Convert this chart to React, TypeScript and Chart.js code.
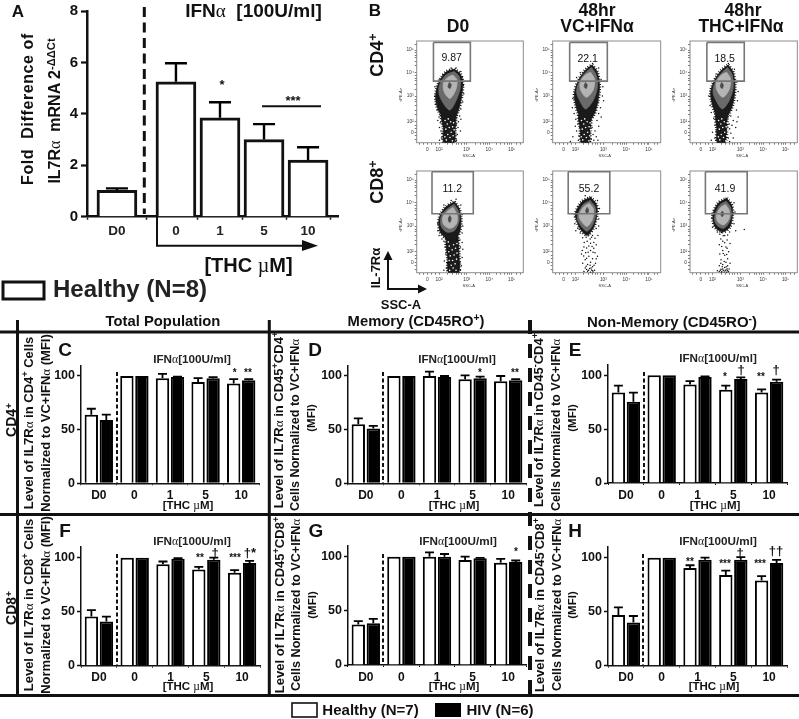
import React, { useEffect, useRef } from "react";
import { Chart, registerables } from "chart.js";
Chart.register(...registerables);

const FONT = '"Liberation Sans", Arial, sans-serif';

// ---- Panel A ----
const aLabels = ["D0", "0", "1", "5", "10"];
const aSlots = [0, 1.34, 2.34, 3.34, 4.34];
const aValues = [1.03, 5.25, 3.85, 3.0, 2.2];
const aErrTop = [1.1, 5.97, 4.45, 3.6, 2.7];

// ---- Panels C-H ----
const thcLabels = ["D0", "0", "1", "5", "10"];
const cHealthy = [64, 100, 98, 94.5, 93];
const cHealthyErr = [69.5, 100, 102, 98, 97];
const cHiv = [59, 100, 99, 98, 96];
const cHivErr = [64, 100, 99.5, 99, 97];
const dHealthy = [55, 100, 100, 97, 95];
const dHealthyErr = [60.5, 100, 104, 100.5, 100];
const dHiv = [51, 100, 99, 98, 96];
const dHivErr = [53.5, 100, 100, 99.5, 97];
const eHealthy = [84, 100, 91.5, 86.5, 84];
const eHealthyErr = [90.5, 100, 94.5, 90.5, 87];
const eHiv = [75.5, 100, 98.5, 96.5, 94];
const eHivErr = [84, 100, 99, 98, 96];
const fHealthy = [45.5, 100, 94, 89, 86];
const fHealthyErr = [51.5, 100, 96.5, 91.5, 88.5];
const fHiv = [41, 100, 99, 98, 95];
const fHivErr = [45.5, 100, 99.5, 100, 97];
const gHealthy = [37.5, 100, 100, 97, 94.5];
const gHealthyErr = [40.5, 100, 104, 100, 98];
const gHiv = [38.5, 100, 100, 98.5, 95];
const gHivErr = [42.5, 100, 102.5, 99, 96.5];
const hHealthy = [47, 100, 90.5, 84, 79];
const hHealthyErr = [54, 100, 93, 88, 83];
const hHiv = [40, 100, 98, 98, 95];
const hHivErr = [46, 100, 100, 100.5, 98];

// ---- Panel B: flow cytometry contours, in decades of each axis ----
type Pts = number[][];
const flowXMajor = [1.52, 2, 3.14, 4.07, 4.99];
const flowYMajor = [1.54, 2, 3.1, 4.1, 5.07];
const flowMajorText = ["0", "10²", "10³", "10⁴", "10⁵"];
const flowXMinor = [1.2, 1.35, 1.7, 1.85, 2.35, 2.55, 2.7, 2.82, 2.92, 3.03, 3.5, 3.7, 3.82, 3.92, 4.0, 4.35, 4.55, 4.7, 4.82, 4.92, 5.2, 5.35];
const flowYMinor = [1.25, 1.4, 1.7, 1.85, 2.3, 2.5, 2.7, 2.85, 2.95, 3.4, 3.6, 3.75, 3.85, 3.98, 4.4, 4.6, 4.75, 4.85, 4.97, 5.3];

const r1c1Outer: Pts = [[2.63,4.25],[2.87,4.05],[2.97,3.7],[2.93,3.1],[2.8,2.5],[2.6,2.1],[2.3,2.1],[2.02,2.4],[1.87,2.9],[1.9,3.4],[2.08,3.85],[2.32,4.15]];
const r1c1Tail: Pts = [[2.7,2.3],[2.66,1.6],[2.62,1.1],[2.2,1.1],[2.18,1.7],[2.12,2.3]];
const r1c1Mid: Pts = [[2.62,4.15],[2.82,3.95],[2.88,3.5],[2.72,2.95],[2.45,2.5],[2.2,2.75],[2.0,3.2],[2.03,3.6],[2.28,4.0]];
const r1c1Light: Pts = [[2.57,4.0],[2.74,3.78],[2.68,3.35],[2.45,3.0],[2.22,3.25],[2.18,3.65],[2.36,3.9]];
const r1c1Core: Pts = [[2.42,3.68],[2.5,3.6],[2.45,3.42],[2.37,3.5]];
const r1c1Dots: Pts = [[2.95,3.9],[3.0,3.55],[3.02,3.2],[2.98,2.85],[2.9,2.55],[2.85,2.25],[2.8,2.0],[2.78,1.75],[2.75,1.45],[2.72,1.2],[1.83,3.1],[1.85,2.75],[1.92,2.5],[2.0,2.2],[2.05,1.95],[2.08,1.6],[2.1,1.3],[2.02,1.75],[1.95,2.05],[2.5,4.3],[2.7,4.3],[2.9,4.15],[2.15,4.0],[2.0,3.8],[1.83,3.5],[2.88,1.6],[2.02,1.2],[2.9,2.1],[2.72,1.9],[2.12,1.5]];

const r1c2Outer: Pts = [[2.68,4.43],[2.88,4.14],[2.98,3.5],[2.88,2.7],[2.7,2.2],[2.42,2.0],[2.15,2.3],[2.0,2.8],[1.97,3.25],[2.14,3.79],[2.41,4.21]];
const r1c2Tail: Pts = [[2.65,2.3],[2.6,1.6],[2.55,1.1],[2.25,1.1],[2.2,1.7],[2.15,2.3]];
const r1c2Mid: Pts = [[2.66,4.32],[2.84,4.02],[2.9,3.5],[2.72,2.9],[2.42,2.55],[2.18,2.9],[2.05,3.3],[2.2,3.8],[2.43,4.12]];
const r1c2Light: Pts = [[2.62,4.12],[2.78,3.82],[2.72,3.35],[2.45,3.05],[2.22,3.35],[2.2,3.7],[2.4,4.0]];
const r1c2Core: Pts = [[2.41,3.68],[2.48,3.58],[2.44,3.42],[2.36,3.52]];
const r1c2Dots: Pts = [[3.05,3.8],[3.12,3.5],[3.1,3.1],[3.15,2.9],[3.02,2.6],[2.95,2.35],[2.88,2.05],[2.95,1.8],[2.8,1.6],[2.85,1.35],[2.75,1.2],[2.68,1.75],[2.72,1.45],[2.65,1.25],[1.9,3.0],[1.88,2.6],[1.95,2.35],[2.02,2.1],[2.1,1.9],[2.05,1.6],[1.9,1.35],[2.15,1.4],[2.12,1.2],[1.8,1.15],[2.0,1.8],[2.92,2.85],[3.05,2.2],[2.7,4.5],[2.95,4.3],[2.2,4.1],[2.05,3.9],[2.92,1.2],[2.18,1.75]];

const r1c3Outer: Pts = [[2.64,4.43],[2.84,4.12],[2.92,3.5],[2.84,2.8],[2.65,2.3],[2.4,2.05],[2.15,2.3],[1.97,2.85],[1.93,3.3],[2.1,3.8],[2.37,4.2]];
const r1c3Tail: Pts = [[2.6,2.35],[2.58,1.6],[2.5,1.1],[2.2,1.1],[2.18,1.7],[2.15,2.35]];
const r1c3Mid: Pts = [[2.62,4.32],[2.8,4.02],[2.85,3.5],[2.68,2.9],[2.4,2.55],[2.15,2.9],[2.02,3.3],[2.16,3.8],[2.4,4.12]];
const r1c3Light: Pts = [[2.58,4.12],[2.74,3.82],[2.67,3.35],[2.42,3.05],[2.18,3.35],[2.16,3.7],[2.36,4.0]];
const r1c3Core: Pts = [[2.37,3.68],[2.44,3.58],[2.4,3.42],[2.32,3.52]];
const r1c3Dots: Pts = [[3.0,3.7],[3.05,3.3],[3.02,2.9],[2.98,2.5],[3.05,2.2],[2.85,2.05],[2.8,1.85],[2.95,1.75],[2.75,1.5],[2.85,1.3],[2.7,1.15],[2.68,1.9],[1.9,2.7],[1.95,2.4],[2.05,2.15],[2.1,1.85],[2.0,1.55],[2.1,1.3],[1.95,1.2],[2.15,1.6],[2.7,1.7],[2.65,1.3],[2.65,4.5],[2.9,4.25],[2.15,4.05],[1.85,3.1],[3.0,2.0],[2.75,2.25]];

const r2c1Outer: Pts = [[2.63,4.14],[2.82,3.85],[2.9,3.4],[2.86,2.9],[2.68,2.55],[2.35,2.55],[2.05,2.85],[2.0,3.4],[2.25,3.88]];
const r2c1Tail: Pts = [[2.78,2.6],[2.82,1.9],[2.8,1.1],[2.4,1.1],[2.36,1.7],[2.32,2.6]];
const r2c1Mid: Pts = [[2.62,4.03],[2.8,3.72],[2.82,3.3],[2.62,2.9],[2.3,2.85],[2.08,3.12],[2.1,3.55],[2.33,3.82]];
const r2c1Light: Pts = [[2.58,3.9],[2.74,3.58],[2.72,3.2],[2.46,3.0],[2.18,3.18],[2.16,3.5],[2.36,3.75]];
const r2c1Core: Pts = [[2.44,3.55],[2.5,3.42],[2.44,3.25],[2.38,3.4]];
const r2c1Dots: Pts = [[2.95,3.6],[2.98,3.1],[2.95,2.8],[2.95,2.4],[2.98,2.1],[2.95,1.75],[2.92,1.4],[2.2,2.45],[2.25,2.2],[2.28,1.9],[2.22,1.6],[2.3,1.3],[2.2,1.2],[1.95,3.2],[1.95,2.9],[2.0,2.7],[2.12,2.55],[2.7,4.25],[2.5,4.2],[2.9,4.0],[2.2,4.0],[2.86,2.5],[2.88,2.2],[2.86,1.55],[2.88,1.2],[2.34,1.5],[2.33,2.0],[2.27,2.6]];
const r2c1Holes: Pts = [[2.44,1.2],[2.58,1.3],[2.7,1.2],[2.5,1.42],[2.66,1.48],[2.42,1.62],[2.56,1.62],[2.72,1.68],[2.46,1.82],[2.62,1.86],[2.74,1.94],[2.4,2.0],[2.54,2.08],[2.68,2.15],[2.42,2.24],[2.6,2.3],[2.74,2.35],[2.38,2.42]];

const r2c2Outer: Pts = [[2.62,4.33],[2.84,4.05],[2.89,3.7],[2.75,3.07],[2.48,2.71],[2.22,2.95],[2.05,3.36],[2.0,3.64],[2.27,4.14]];
const r2c2Mid: Pts = [[2.6,4.2],[2.8,3.92],[2.82,3.55],[2.68,3.1],[2.47,2.88],[2.22,3.12],[2.08,3.48],[2.3,4.0]];
const r2c2Light: Pts = [[2.57,4.08],[2.74,3.82],[2.7,3.4],[2.48,3.08],[2.26,3.28],[2.15,3.55],[2.33,3.92]];
const r2c2Core: Pts = [[2.48,3.9],[2.54,3.78],[2.48,3.62],[2.42,3.75]];
const r2c2Dots: Pts = [[2.9,4.2],[2.98,3.85],[2.95,3.4],[2.85,3.0],[2.92,2.7],[2.7,2.7],[2.6,2.55],[2.48,2.45],[2.3,2.6],[2.75,2.4],[2.55,2.25],[2.35,2.2],[2.85,2.3],[2.62,2.05],[2.42,1.95],[2.8,1.95],[2.25,1.9],[2.9,1.8],[2.55,1.8],[2.7,1.7],[2.4,1.65],[2.3,1.5],[2.62,1.55],[2.82,1.5],[2.5,1.45],[2.7,1.35],[2.4,1.3],[2.58,1.28],[2.66,1.22],[2.78,1.2],[2.5,1.16],[2.62,1.12],[2.35,1.15],[2.72,1.13],[2.1,3.0],[1.98,3.2],[2.02,2.9],[2.4,4.4],[2.75,2.15],[2.95,3.1],[2.38,2.85],[2.55,2.72],[2.2,2.8],[2.66,2.62],[2.44,2.62],[2.8,2.58],[2.36,2.4],[2.62,2.36],[2.68,2.22],[2.46,2.16],[2.28,2.05],[2.72,1.98],[2.52,1.98],[2.85,1.7],[2.46,1.72],[2.34,1.82],[2.6,1.42],[2.44,1.38],[2.76,1.42],[2.54,1.2],[2.7,1.18],[2.46,1.24],[2.64,1.3]];

const r2c3Outer: Pts = [[2.58,4.29],[2.78,4.0],[2.82,3.64],[2.71,3.07],[2.44,2.86],[2.15,3.0],[2.03,3.29],[2.03,3.64],[2.23,4.07]];
const r2c3Mid: Pts = [[2.56,4.16],[2.74,3.9],[2.76,3.5],[2.62,3.15],[2.42,3.0],[2.18,3.14],[2.08,3.45],[2.28,3.98]];
const r2c3Light: Pts = [[2.53,4.02],[2.68,3.78],[2.68,3.42],[2.46,3.15],[2.22,3.28],[2.16,3.55],[2.32,3.88]];
const r2c3Core: Pts = [[2.4,3.74],[2.46,3.64],[2.4,3.5],[2.34,3.62]];
const r2c3Dots: Pts = [[2.88,4.1],[2.92,3.7],[2.88,3.2],[2.95,2.9],[3.3,2.95],[2.7,2.85],[2.5,2.7],[2.3,2.75],[2.6,2.5],[2.42,2.45],[2.72,2.35],[2.28,2.3],[2.55,2.2],[2.42,2.05],[2.66,2.0],[2.3,1.9],[2.5,1.85],[2.62,1.7],[2.35,1.65],[2.55,1.55],[2.42,1.45],[2.62,1.4],[2.28,1.4],[2.5,1.32],[2.35,1.25],[2.44,1.2],[2.55,1.22],[2.62,1.18],[2.28,1.15],[2.38,1.14],[2.48,1.13],[2.58,1.12],[2.68,1.26],[2.2,1.18],[2.72,1.5],[2.0,3.05],[1.97,3.45],[2.36,2.82],[2.2,2.85],[2.62,2.72],[2.44,2.68],[2.34,2.55],[2.5,2.38],[2.38,2.22],[2.6,2.15],[2.44,1.92],[2.58,1.88],[2.34,1.5],[2.48,1.58],[2.4,1.35],[2.56,1.35],[2.32,1.2],[2.52,1.18],[2.42,1.26],[2.6,1.26],[2.36,1.12],[2.66,1.14]];

const tailHoles: Pts = [[2.3,1.22],[2.45,1.32],[2.55,1.18],[2.36,1.45],[2.5,1.55],[2.28,1.68],[2.42,1.75],[2.56,1.78],[2.34,1.9],[2.48,2.0],[2.6,1.95],[2.25,2.05],[2.38,2.12],[2.58,1.4],[2.24,1.35],[2.62,1.65]];

const gateR1C1: Pts = [[1.77,5.4],[3.29,5.4],[3.29,3.74],[1.77,3.74],[1.77,5.4]];
const gateR1C2: Pts = [[1.77,5.4],[3.3,5.4],[3.3,3.74],[1.77,3.74],[1.77,5.4]];
const gateR1C3: Pts = [[1.77,5.4],[3.3,5.4],[3.3,3.74],[1.77,3.74],[1.77,5.4]];
const gateR2C1: Pts = [[1.71,5.43],[3.41,5.43],[3.41,3.63],[1.71,3.63],[1.71,5.43]];
const gateR2C2: Pts = [[1.71,5.43],[3.4,5.43],[3.4,3.63],[1.71,3.63],[1.71,5.43]];
const gateR2C3: Pts = [[1.71,5.43],[3.42,5.43],[3.42,3.63],[1.71,3.63],[1.71,5.43]];

// ---- plugins ----
const errorBars = {
  id: "errorBars",
  afterDatasetsDraw(chart: any) {
    const { ctx } = chart;
    const yScale = chart.scales.y;
    chart.data.datasets.forEach((ds: any, di: number) => {
      if (!ds.errTop) return;
      chart.getDatasetMeta(di).data.forEach((bar: any, i: number) => {
        const top = ds.errTop[i];
        if (top == null || top <= ds.plainValues[i]) return;
        const py = yScale.getPixelForValue(top);
        ctx.save();
        ctx.strokeStyle = "#000";
        ctx.lineWidth = ds.errWidth;
        ctx.beginPath();
        ctx.moveTo(bar.x, bar.y);
        ctx.lineTo(bar.x, py);
        ctx.moveTo(bar.x - ds.capHalf, py);
        ctx.lineTo(bar.x + ds.capHalf, py);
        ctx.stroke();
        ctx.restore();
      });
    });
  },
};

const boxBorder = {
  id: "boxBorder",
  beforeDatasetsDraw(chart: any) {
    const { ctx, chartArea: a } = chart;
    ctx.save();
    ctx.strokeStyle = "#8c8c8c";
    ctx.lineWidth = 1;
    ctx.strokeRect(a.left, a.top, a.right - a.left, a.bottom - a.top);
    ctx.restore();
  },
};

function ChartCanvas({ left, top, width, height, config }: any) {
  const ref = useRef<HTMLCanvasElement>(null);
  useEffect(() => {
    const c = new Chart(ref.current as HTMLCanvasElement, config);
    return () => c.destroy();
  }, []);
  return <canvas ref={ref} width={width} height={height} style={{ position: "absolute", left, top, width, height }} />;
}

// Panel A
function PanelA() {
  const x0 = 87, x1 = 338, y0 = 216.7, yT = 11;
  const L = 60, T = -3;
  const ml = x0 - L, mt = yT - T, W = x1 - L + 4, H = 243 - T;
  const config: any = {
    type: "bar",
    data: {
      datasets: [{
        data: aValues.map((v, i) => ({ x: aSlots[i], y: v })),
        plainValues: aValues, errTop: aErrTop, errWidth: 2.4, capHalf: 11,
        backgroundColor: "#fff", borderColor: "#111", borderWidth: 3, barThickness: 40,
      }],
    },
    options: {
      animation: false, responsive: false, events: [],
      layout: { autoPadding: false, padding: { top: mt, right: W - (x1 - L), left: 0, bottom: 0 } },
      plugins: { legend: { display: false }, tooltip: { enabled: false } },
      scales: {
        x: {
          type: "linear", offset: false, min: -0.68, max: 5.02,
          afterBuildTicks: (s: any) => { s.ticks = aSlots.map((value) => ({ value })); },
          afterFit: (s: any) => { s.height = H + T - y0; },
          grid: { display: true, drawOnChartArea: false, tickLength: 3, tickWidth: 1.5, tickColor: "#111" },
          border: { color: "#111", width: 2.5 },
          ticks: { autoSkip: false, maxRotation: 0, padding: 3, color: "#222", font: { family: FONT, weight: "bold", size: 13.5 }, callback: (_: any, i: number) => aLabels[i] },
        },
        y: {
          min: 0, max: 8,
          afterFit: (s: any) => { s.width = ml; },
          grid: { display: true, drawOnChartArea: false, tickLength: 6, tickWidth: 2.2, tickColor: "#111" },
          border: { color: "#111", width: 2.5 },
          ticks: { stepSize: 2, padding: 3, color: "#111", font: { family: FONT, weight: "bold", size: 15 } },
        },
      },
    },
    plugins: [errorBars],
  };
  return <ChartCanvas left={L} top={T} width={W} height={H} config={config} />;
}

// Small grouped panels
function BarPanel({ x0, x1, zero, hundred, healthy, healthyErr, hiv, hivErr }: any) {
  const yT = zero - (zero - hundred) * 1.1;
  const L = Math.round(x0) - 36, T = Math.floor(yT) - 20;
  const W = Math.ceil(x1) + 3 - L, H = Math.ceil(zero) + 20 - T;
  const cat = 30 / ((x1 - x0) / 5);
  const common = { borderColor: "#000", borderWidth: 2, categoryPercentage: cat, barPercentage: 0.89, errWidth: 1.8, capHalf: 4.5 };
  const config: any = {
    type: "bar",
    data: {
      labels: thcLabels,
      datasets: [
        { ...common, data: healthy, plainValues: healthy, errTop: healthyErr, backgroundColor: "#fff" },
        { ...common, data: hiv, plainValues: hiv, errTop: hivErr, backgroundColor: "#000" },
      ],
    },
    options: {
      animation: false, responsive: false, events: [],
      layout: { autoPadding: false, padding: { top: yT - T, right: L + W - x1, left: 0, bottom: 0 } },
      plugins: { legend: { display: false }, tooltip: { enabled: false } },
      scales: {
        x: {
          afterFit: (s: any) => { s.height = T + H - zero; },
          grid: { display: true, drawOnChartArea: false, tickLength: 2, tickWidth: 1, tickColor: "#111" },
          border: { color: "#111", width: 1.5 },
          ticks: { autoSkip: false, maxRotation: 0, padding: 3, color: "#111", font: { family: FONT, weight: "bold", size: 12 } },
        },
        y: {
          min: 0, max: 110,
          afterFit: (s: any) => { s.width = x0 - L; },
          grid: { display: true, drawOnChartArea: false, tickLength: 4, tickWidth: 1.5, tickColor: "#111" },
          border: { color: "#111", width: 1.5 },
          ticks: { stepSize: 50, includeBounds: false, padding: 2, color: "#111", font: { family: FONT, weight: "bold", size: 12.5 } },
        },
      },
    },
    plugins: [errorBars],
  };
  return <ChartCanvas left={L} top={T} width={W} height={H} config={config} />;
}

const toXY = (p: Pts) => p.map(([x, y]) => ({ x, y }));
const poly = (p: Pts, color: string) => ({
  data: toXY([...p, p[0]]), showLine: true, fill: "shape", backgroundColor: color, borderColor: color,
  borderWidth: 0.8, pointRadius: 0, tension: 0.3, clip: true,
});
const fringe = (p: Pts) => ({
  data: toXY([...p, p[0]]), showLine: true, fill: false, borderColor: "#111", borderWidth: 3.5,
  borderDash: [0.9, 1.7], pointRadius: 0, tension: 0.3, clip: true,
});
const dots = (p: Pts, color: string, r: number) => ({ data: toXY(p), showLine: false, pointRadius: r, pointBackgroundColor: color, pointBorderWidth: 0, backgroundColor: color });

function FlowPanel({ x0, x1, yT, yB, gate, core, light, mid, outer, tail, pts, holes }: any) {
  const L = Math.round(x0) - 14, T = Math.floor(yT) - 8;
  const W = Math.ceil(x1) + 2 - L, H = Math.ceil(yB) + 14 - T;
  const tickFont = { family: FONT, size: 4.8 };
  const datasets: any[] = [
    { data: toXY(gate), showLine: true, fill: false, borderColor: "#777", borderWidth: 1.6, pointRadius: 0, tension: 0, clip: false },
    poly(core, "#4a4a4a"),
    poly(light, "#b4b4b4"),
    poly(mid, "#6a6a6a"),
    dots(pts, "#111", 0.75),
  ];
  if (holes) datasets.push(dots(holes, "#fff", 0.8));
  datasets.push(poly(outer, "#1a1a1a"));
  datasets.push(fringe(outer));
  if (tail) datasets.push(fringe(tail), poly(tail, "#1c1c1c"));
  const config: any = {
    type: "scatter",
    data: { datasets },
    options: {
      animation: false, responsive: false, events: [],
      layout: { autoPadding: false, padding: { top: yT - T, right: L + W - x1, left: 0, bottom: 0 } },
      plugins: { legend: { display: false }, tooltip: { enabled: false } },
      scales: {
        x: {
          type: "linear", min: 1.08, max: 5.47,
          afterBuildTicks: (s: any) => { s.ticks = [...flowXMajor, ...flowXMinor].sort((a, b) => a - b).map((value) => ({ value })); },
          afterFit: (s: any) => { s.height = T + H - yB; },
          grid: { display: true, drawOnChartArea: false, tickLength: 2, tickWidth: 0.6, tickColor: "#222" },
          border: { display: false },
          ticks: { autoSkip: false, maxRotation: 0, padding: 2, color: "#333", font: tickFont, callback: (v: number) => { const k = flowXMajor.indexOf(v); return k >= 0 ? flowMajorText[k] : ""; } },
        },
        y: {
          min: 1.1, max: 5.46,
          afterBuildTicks: (s: any) => { s.ticks = [...flowYMajor, ...flowYMinor].sort((a, b) => a - b).map((value) => ({ value })); },
          afterFit: (s: any) => { s.width = x0 - L; },
          grid: { display: true, drawOnChartArea: false, tickLength: 2, tickWidth: 0.6, tickColor: "#222" },
          border: { display: false },
          ticks: { autoSkip: false, padding: 1, color: "#333", font: tickFont, callback: (v: number) => { const k = flowYMajor.indexOf(v); return k >= 0 ? flowMajorText[k] : ""; } },
        },
      },
    },
    plugins: [boxBorder],
  };
  return <ChartCanvas left={L} top={T} width={W} height={H} config={config} />;
}

function T({ x, y, s, w = "bold", rot, children, c = "#111", ls }: any) {
  return (
    <div style={{
      position: "absolute", left: x, top: y, fontFamily: FONT, fontSize: s, fontWeight: w, color: c, whiteSpace: "pre", lineHeight: 1,
      letterSpacing: ls, transform: `translate(-50%,-50%)${rot ? " rotate(-90deg)" : ""}`,
    }}>{children}</div>
  );
}
const A = () => <span style={{ fontFamily: '"Liberation Serif", serif', fontWeight: 400 }}>α</span>;
const M = () => <span style={{ fontFamily: '"Liberation Serif", serif', fontWeight: 400 }}>µ</span>;
const Sup = ({ children }: any) => <sup style={{ fontSize: "0.7em", lineHeight: 0, verticalAlign: "0.45em" }}>{children}</sup>;

const smallPanels = [
  { x0: 81, x1: 259, zero: 483.3, hundred: 376, healthy: cHealthy, healthyErr: cHealthyErr, hiv: cHiv, hivErr: cHivErr },
  { x0: 348, x1: 526, zero: 483.3, hundred: 376, healthy: dHealthy, healthyErr: dHealthyErr, hiv: dHiv, hivErr: dHivErr },
  { x0: 608, x1: 787, zero: 483, hundred: 375.3, healthy: eHealthy, healthyErr: eHealthyErr, hiv: eHiv, hivErr: eHivErr },
  { x0: 81, x1: 260, zero: 665.7, hundred: 557.7, healthy: fHealthy, healthyErr: fHealthyErr, hiv: fHiv, hivErr: fHivErr },
  { x0: 348, x1: 526, zero: 665, hundred: 556.7, healthy: gHealthy, healthyErr: gHealthyErr, hiv: gHiv, hivErr: gHivErr },
  { x0: 608, x1: 787, zero: 665.7, hundred: 557.7, healthy: hHealthy, healthyErr: hHealthyErr, hiv: hHiv, hivErr: hHivErr },
];
const colsX = [[416.7, 523.3], [552.7, 660.7], [690, 797.3]];
const R1 = { yT: 41, yB: 142.7 };
const R2 = { yT: 171, yB: 272.7 };

export default function App() {
  return (
    <div style={{ position: "absolute", left: 0, top: 0, width: 799, height: 719, background: "#fff", overflow: "hidden", filter: "blur(0.35px)" }}>
      <PanelA />
      {smallPanels.map((p, i) => <BarPanel key={i} {...p} />)}
      <FlowPanel x0={colsX[0][0]} x1={colsX[0][1]} {...R1} gate={gateR1C1} core={r1c1Core} light={r1c1Light} mid={r1c1Mid} outer={r1c1Outer} tail={r1c1Tail} pts={r1c1Dots} holes={tailHoles} />
      <FlowPanel x0={colsX[1][0]} x1={colsX[1][1]} {...R1} gate={gateR1C2} core={r1c2Core} light={r1c2Light} mid={r1c2Mid} outer={r1c2Outer} tail={r1c2Tail} pts={r1c2Dots} holes={tailHoles} />
      <FlowPanel x0={colsX[2][0]} x1={colsX[2][1]} {...R1} gate={gateR1C3} core={r1c3Core} light={r1c3Light} mid={r1c3Mid} outer={r1c3Outer} tail={r1c3Tail} pts={r1c3Dots} holes={tailHoles} />
      <FlowPanel x0={colsX[0][0]} x1={colsX[0][1]} {...R2} gate={gateR2C1} core={r2c1Core} light={r2c1Light} mid={r2c1Mid} outer={r2c1Outer} tail={r2c1Tail} pts={r2c1Dots} holes={r2c1Holes} />
      <FlowPanel x0={colsX[1][0]} x1={colsX[1][1]} {...R2} gate={gateR2C2} core={r2c2Core} light={r2c2Light} mid={r2c2Mid} outer={r2c2Outer} pts={r2c2Dots} />
      <FlowPanel x0={colsX[2][0]} x1={colsX[2][1]} {...R2} gate={gateR2C3} core={r2c3Core} light={r2c3Light} mid={r2c3Mid} outer={r2c3Outer} pts={r2c3Dots} />

      <svg width={799} height={719} style={{ position: "absolute", left: 0, top: 0 }}>
        {/* Panel A furniture */}
        <line x1={144.3} y1={7} x2={144.3} y2={214} stroke="#111" strokeWidth={3} strokeDasharray="10 5.5" />
        <polyline points="157,217 157,245.7 304,245.7" fill="none" stroke="#111" strokeWidth={2} />
        <polygon points="302,240 318,245.7 302,251" fill="#111" />
        <line x1={262} y1={106.3} x2={321} y2={106.3} stroke="#111" strokeWidth={2} />
        <rect x={3} y={282} width={41} height={17} fill="#fff" stroke="#111" strokeWidth={3} />
        {/* Panel B arrows */}
        <polyline points="388,258 388,289 420,289" fill="none" stroke="#111" strokeWidth={2} />
        <polygon points="383.5,260 388,251 392.5,260" fill="#111" />
        <polygon points="418,284.5 427,289 418,293.5" fill="#111" />
        {/* Table grid */}
        <line x1={0} y1={332} x2={799} y2={332} stroke="#111" strokeWidth={3} />
        <line x1={0} y1={514.5} x2={799} y2={514.5} stroke="#111" strokeWidth={3} />
        <line x1={0} y1={695.5} x2={799} y2={695.5} stroke="#111" strokeWidth={3} />
        <line x1={17.5} y1={320} x2={17.5} y2={696} stroke="#111" strokeWidth={3} />
        <line x1={269.3} y1={320} x2={269.3} y2={696} stroke="#111" strokeWidth={3} />
        <line x1={530} y1={320} x2={530} y2={696} stroke="#111" strokeWidth={4} strokeDasharray="14 10" />
        {/* Dashed separators C-H */}
        {[[117, 372, 483], [383, 372, 483], [644, 372, 483], [117, 554, 666], [383, 554, 665], [643, 554, 666]].map(([x, a, b], i) => (
          <line key={i} x1={x} y1={a} x2={x} y2={b} stroke="#111" strokeWidth={2} strokeDasharray="4 2.5" />
        ))}
        {/* Legend */}
        <rect x={292} y={703} width={25} height={14} fill="#fff" stroke="#111" strokeWidth={1.6} />
        <rect x={435} y={703} width={26} height={14} fill="#000" />
      </svg>

      {/* Panel A text */}
      <T x={18} y={11} s={17}>A</T>
      <T x={28} y={109} s={16} rot ls="0.6px">{"Fold  Difference of"}</T>
      <T x={55} y={111} s={16} rot>IL7R<A /> {" mRNA 2"}<Sup>-ΔΔCt</Sup></T>
      <T x={253.5} y={10} s={19}>IFN<A />{"  [100U/ml]"}</T>
      <T x={222} y={84} s={13}>*</T>
      <T x={293} y={100} s={13}>***</T>
      <T x={248.5} y={265} s={20}>[THC <M />M]</T>
      <T x={130} y={289} s={24} c="#222">Healthy (N=8)</T>

      {/* Panel B text */}
      <T x={375} y={10} s={17}>B</T>
      <T x={458} y={27} s={17.5}>D0</T>
      <T x={597} y={11} s={17.5}>48hr</T>
      <T x={597} y={27} s={17.5}>VC+IFN<span>α</span></T>
      <T x={743} y={11} s={17.5}>48hr</T>
      <T x={741} y={27} s={17.5}>THC+IFN<span>α</span></T>
      <T x={377} y={55} s={18} rot>CD4<Sup>+</Sup></T>
      <T x={377} y={182} s={18} rot>CD8<Sup>+</Sup></T>
      <T x={375} y={268} s={13} rot>IL-7R<span>α</span></T>
      <T x={401} y={304} s={13}>SSC-A</T>
      {[[451.7, 57, "9.87"], [587.7, 57.5, "22.1"], [724.7, 57.5, "18.5"], [452.3, 188.3, "11.2"], [589, 188.3, "55.2"], [725, 188.3, "41.9"]].map(([x, y, t]: any, i) => (
        <T key={i} x={x} y={y} s={10.5} w="normal">{t}</T>
      ))}
      {colsX.map((c, i) => [R1, R2].map((r, j) => (
        <React.Fragment key={`${i}-${j}`}>
          <T x={c[0] + 52} y={r.yB + 13} s={4} w="normal" c="#333">SSC-A</T>
          <T x={c[0] - 16} y={r.yT + 54} s={4} w="normal" c="#333" rot>&lt;PE-A&gt;</T>
        </React.Fragment>
      )))}

      {/* Table headers */}
      <T x={163} y={321} s={14.8}>Total Population</T>
      <T x={416} y={321} s={14.8}>Memory (CD45RO<Sup>+</Sup>)</T>
      <T x={672} y={321} s={15}>Non-Memory (CD45RO<Sup>-</Sup>)</T>
      <T x={11} y={420} s={14} rot>CD4<Sup>+</Sup></T>
      <T x={11} y={608} s={14} rot>CD8<Sup>+</Sup></T>

      {/* Panel letters */}
      <T x={65} y={349} s={19}>C</T>
      <T x={315} y={349} s={19}>D</T>
      <T x={575} y={349} s={19}>E</T>
      <T x={65} y={530} s={19}>F</T>
      <T x={316} y={530} s={19}>G</T>
      <T x={575} y={530} s={19}>H</T>

      {/* IFN labels */}
      {[[192, 359], [457, 359], [718, 358], [192, 541], [458, 541], [718, 541]].map(([x, y], i) => (
        <T key={i} x={x} y={y} s={11.7} c="#222">IFN<A />[100U/ml]</T>
      ))}
      {/* THC labels */}
      {[[188, 505.7], [454, 505.7], [715, 505.7], [188, 687], [454, 687], [714, 687]].map(([x, y], i) => (
        <T key={i} x={x} y={y} s={11.5}>[THC <M />M]</T>
      ))}

      {/* Y titles */}
      <T x={28} y={423} s={13} rot>Level of IL7R<A /> in CD4<Sup>+</Sup> Cells</T>
      <T x={45} y={423} s={13} rot>Normalized to VC+IFN<A /> (MFI)</T>
      <T x={278} y={420} s={13} rot>Level of IL7R<A /> in CD45<Sup>+</Sup>CD4<Sup>+</Sup></T>
      <T x={295} y={425} s={12.6} rot>Cells Normalized to VC+IFN<A /></T>
      <T x={312} y={418} s={11.5} rot>(MFI)</T>
      <T x={538} y={420} s={13} rot>Level of IL7R<A /> in CD45<Sup>-</Sup>CD4<Sup>+</Sup></T>
      <T x={556} y={425} s={12.6} rot>Cells Normalized to VC+IFN<A /></T>
      <T x={573} y={418} s={11.5} rot>(MFI)</T>
      <T x={28} y={605} s={13} rot>Level of IL7R<A /> in CD8<Sup>+</Sup> Cells</T>
      <T x={45} y={605} s={13} rot>Normalized to VC+IFN<A /> (MFI)</T>
      <T x={279} y={605} s={13} rot>Level of IL7R<A /> in CD45<Sup>+</Sup>CD8<Sup>+</Sup></T>
      <T x={296} y={605} s={12.6} rot>Cells Normalized to VC+IFN<A /></T>
      <T x={313} y={605} s={11.5} rot>(MFI)</T>
      <T x={539} y={605} s={13} rot>Level of IL7R<A /> in CD45<Sup>-</Sup>CD8<Sup>+</Sup></T>
      <T x={557} y={605} s={12.6} rot>Cells Normalized to VC+IFN<A /></T>
      <T x={573} y={605} s={11.5} rot>(MFI)</T>

      {/* Significance marks */}
      {[
        [234.7, 373, "*", 10], [248, 373, "**", 10],
        [480, 373, "*", 10], [515, 373, "**", 10],
        [725, 377, "*", 10], [741, 369, "†", 13], [761, 377, "**", 10], [776, 369, "†", 13],
        [200, 558, "**", 10], [215, 552, "†", 13], [235, 558, "***", 10], [250, 552, "†*", 13],
        [516, 552, "*", 10],
        [690, 562, "**", 10], [725, 564, "***", 10], [740, 552, "†", 13], [760, 564, "***", 10], [776, 550, "††", 13],
      ].map(([x, y, t, s]: any, i) => <T key={i} x={x} y={y} s={s}>{t}</T>)}

      {/* Bottom legend */}
      <T x={370.5} y={709} s={15}>Healthy (N=7)</T>
      <T x={500} y={709} s={15}>HIV (N=6)</T>
    </div>
  );
}
